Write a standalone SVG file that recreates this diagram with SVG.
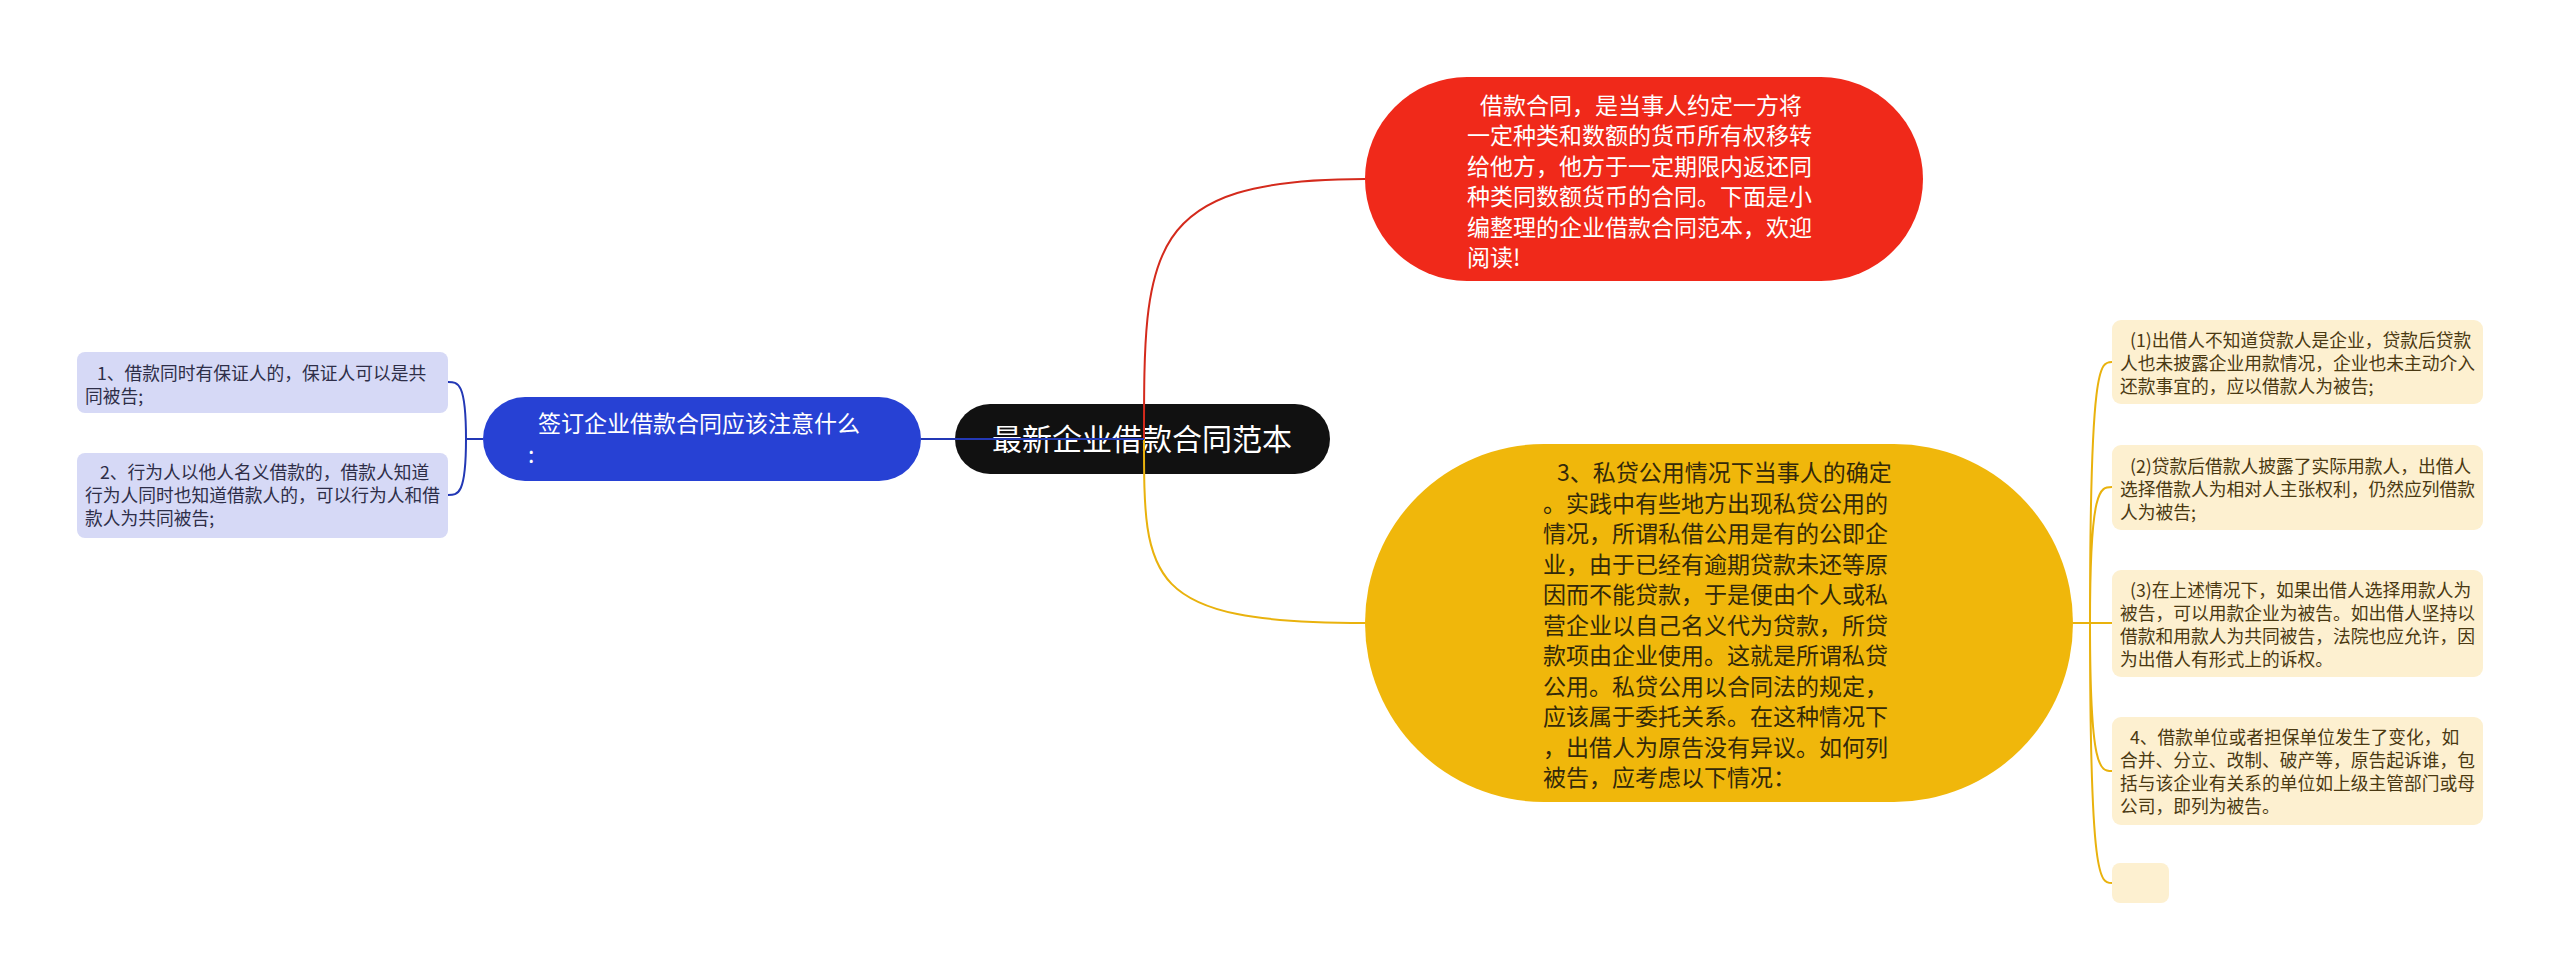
<svg xmlns="http://www.w3.org/2000/svg" width="2560" height="980" viewBox="0 0 2560 980">
<style>
text{font-family:"Noto Sans CJK SC","Noto Sans",sans-serif}
.root{fill:#fff;font-size:30px}
.main{font-size:23px}
.leaf{font-size:17.75px}
.lf{fill:#d6d9f6}
.rf{fill:#fdf0d0}
.lt{fill:#2e2e48}
.rt{fill:#4a3912}
.conn{fill:none;stroke-width:2}
</style>
<rect width="2560" height="980" fill="#ffffff"/>
<g id="root">
<rect x="955" y="404" width="375" height="70" rx="35" fill="#111111"/>
<text class="root" x="1142" y="450" text-anchor="middle">最新企业借款合同范本</text>
</g>
<g id="intro">
<rect x="1365" y="77" width="558" height="204" rx="102" fill="#f0291a"/>
<text class="main" fill="#ffffff">
<tspan x="1480" y="114">借款合同，是当事人约定一方将</tspan>
<tspan x="1467" y="144.4">一定种类和数额的货币所有权移转</tspan>
<tspan x="1467" y="174.8">给他方，他方于一定期限内返还同</tspan>
<tspan x="1467" y="205.2">种类同数额货币的合同。下面是小</tspan>
<tspan x="1467" y="235.6">编整理的企业借款合同范本，欢迎</tspan>
<tspan x="1467" y="266">阅读!</tspan>
</text>
</g>
<g id="point3">
<rect x="1365" y="444" width="708" height="358" rx="179" fill="#f0b70b"/>
<text class="main" fill="#33290a">
<tspan x="1557" y="481">3、私贷公用情况下当事人的确定</tspan>
<tspan x="1543" y="511.5">。实践中有些地方出现私贷公用的</tspan>
<tspan x="1543" y="542">情况，所谓私借公用是有的公即企</tspan>
<tspan x="1543" y="572.5">业，由于已经有逾期贷款未还等原</tspan>
<tspan x="1543" y="603">因而不能贷款，于是便由个人或私</tspan>
<tspan x="1543" y="633.5">营企业以自己名义代为贷款，所贷</tspan>
<tspan x="1543" y="664">款项由企业使用。这就是所谓私贷</tspan>
<tspan x="1543" y="694.5">公用。私贷公用以合同法的规定，</tspan>
<tspan x="1543" y="725">应该属于委托关系。在这种情况下</tspan>
<tspan x="1543" y="755.5">，出借人为原告没有异议。如何列</tspan>
<tspan x="1543" y="786">被告，应考虑以下情况：</tspan>
</text>
</g>
<g id="notice">
<rect x="483" y="397" width="438" height="84" rx="42" fill="#2741d4"/>
<text class="main" fill="#ffffff">
<tspan x="538" y="432">签订企业借款合同应该注意什么</tspan>
<tspan x="528" y="463">:</tspan>
</text>
</g>
<g id="left1">
<rect class="lf" x="77" y="352" width="371" height="61" rx="8"/>
<text class="leaf lt">
<tspan x="97" y="379.5">1、借款同时有保证人的，保证人可以是共</tspan>
<tspan x="85" y="402.5">同被告;</tspan>
</text>
</g>
<g id="left2">
<rect class="lf" x="77" y="453" width="371" height="85" rx="8"/>
<text class="leaf lt">
<tspan x="100" y="478.5">2、行为人以他人名义借款的，借款人知道</tspan>
<tspan x="85" y="501.5">行为人同时也知道借款人的，可以行为人和借</tspan>
<tspan x="85" y="524.5">款人为共同被告;</tspan>
</text>
</g>
<g id="right1">
<rect class="rf" x="2112" y="320" width="371" height="84" rx="9"/>
<text class="leaf rt">
<tspan x="2130" y="346.5">(1)出借人不知道贷款人是企业，贷款后贷款</tspan>
<tspan x="2120" y="369.5">人也未披露企业用款情况，企业也未主动介入</tspan>
<tspan x="2120" y="392.5">还款事宜的，应以借款人为被告;</tspan>
</text>
</g>
<g id="right2">
<rect class="rf" x="2112" y="445" width="371" height="85" rx="9"/>
<text class="leaf rt">
<tspan x="2130" y="472.5">(2)贷款后借款人披露了实际用款人，出借人</tspan>
<tspan x="2120" y="495.5">选择借款人为相对人主张权利，仍然应列借款</tspan>
<tspan x="2120" y="518.5">人为被告;</tspan>
</text>
</g>
<g id="right3">
<rect class="rf" x="2112" y="570" width="371" height="107" rx="9"/>
<text class="leaf rt">
<tspan x="2130" y="596.5">(3)在上述情况下，如果出借人选择用款人为</tspan>
<tspan x="2120" y="619.5">被告，可以用款企业为被告。如出借人坚持以</tspan>
<tspan x="2120" y="642.5">借款和用款人为共同被告，法院也应允许，因</tspan>
<tspan x="2120" y="665.5">为出借人有形式上的诉权。</tspan>
</text>
</g>
<g id="right4">
<rect class="rf" x="2112" y="717" width="371" height="108" rx="9"/>
<text class="leaf rt">
<tspan x="2130" y="744">4、借款单位或者担保单位发生了变化，如</tspan>
<tspan x="2120" y="767">合并、分立、改制、破产等，原告起诉谁，包</tspan>
<tspan x="2120" y="790">括与该企业有关系的单位如上级主管部门或母</tspan>
<tspan x="2120" y="813">公司，即列为被告。</tspan>
</text>
</g>
<g id="right5">
<rect class="rf" x="2112" y="863" width="57" height="40" rx="8"/>
</g>
<g id="connectors">
<path class="conn" stroke="#d42a1c" d="M1144 439 C1144 250 1144 179 1365 179"/>
<path class="conn" stroke="#e9b20d" d="M1144 439 C1144 580 1144 623 1365 623"/>
<path class="conn" stroke="#2338b5" stroke-width="2.5" d="M1144 439 L921 439"/>
<path class="conn" stroke="#2338b5" stroke-width="2.5" d="M483 439 L466 439 M466 439 C466 382 458 382 448 382 M466 439 C466 495 458 495 448 495"/>
<path class="conn" stroke="#e9b20d" d="M2073 623 L2090 623 M2090 623 C2090 362 2100 362 2112 362 M2090 623 C2090 487 2100 487 2112 487 M2090 623 L2112 623 M2090 623 C2090 771 2100 771 2112 771 M2090 623 C2090 883 2100 883 2112 883"/>
</g>
</svg>
